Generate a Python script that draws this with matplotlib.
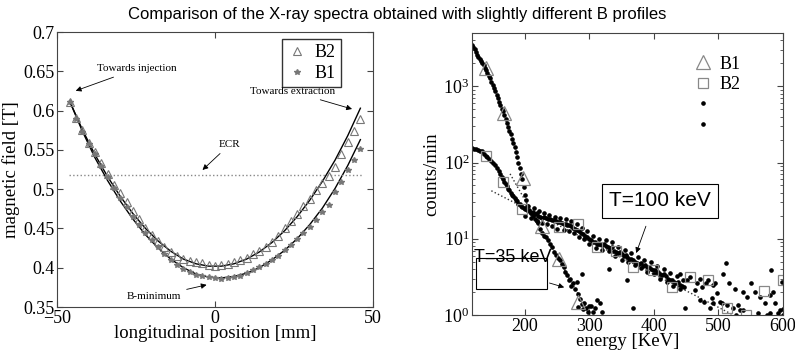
import matplotlib
matplotlib.use("Agg")
import matplotlib.pyplot as plt
from matplotlib.lines import Line2D
from matplotlib.ticker import LogLocator, LogFormatterMathtext, NullFormatter

plt.rcParams['font.family'] = ['Liberation Serif', 'DejaVu Serif']
plt.rcParams['mathtext.fontset'] = 'stix'

# ---- left panel: magnetic field profiles ----
pos_mm = [-46, -44, -42, -40, -38, -36, -34, -32, -30, -28, -26, -24, -22, -20, -18, -16,
          -14, -12, -10, -8, -6, -4, -2, 0, 2, 4, 6, 8, 10, 12, 14, 16, 18, 20, 22, 24,
          26, 28, 30, 32, 34, 36, 38, 40, 42, 44, 46]
field_b2 = [0.611, 0.590, 0.575, 0.559, 0.547, 0.533, 0.519, 0.505, 0.495, 0.484, 0.472,
            0.462, 0.451, 0.442, 0.434, 0.427, 0.420, 0.415, 0.411, 0.408, 0.407, 0.406,
            0.404, 0.402, 0.404, 0.405, 0.407, 0.410, 0.412, 0.417, 0.421, 0.426, 0.433,
            0.441, 0.450, 0.459, 0.469, 0.479, 0.488, 0.499, 0.508, 0.517, 0.528, 0.545,
            0.560, 0.574, 0.589]
field_b1 = [0.611, 0.589, 0.573, 0.557, 0.545, 0.530, 0.516, 0.502, 0.489, 0.477, 0.465,
            0.455, 0.444, 0.435, 0.427, 0.418, 0.410, 0.404, 0.399, 0.395, 0.391, 0.389,
            0.388, 0.387, 0.386, 0.387, 0.388, 0.390, 0.393, 0.397, 0.401, 0.405, 0.410,
            0.415, 0.422, 0.429, 0.436, 0.444, 0.452, 0.461, 0.471, 0.480, 0.496, 0.509,
            0.524, 0.537, 0.551]

fit_pos = [-46, -42, -38, -34, -30, -26, -22, -18, -14, -10, -6, -2, 2, 6, 10, 14, 18,
           22, 26, 30, 34, 38, 42, 46]
fit_b2 = [0.612, 0.576, 0.544, 0.516, 0.491, 0.469, 0.450, 0.434, 0.421, 0.411, 0.405,
          0.402, 0.402, 0.405, 0.411, 0.420, 0.432, 0.447, 0.465, 0.486, 0.510, 0.537,
          0.568, 0.603]
fit_b1 = [0.612, 0.574, 0.540, 0.511, 0.485, 0.462, 0.442, 0.425, 0.411, 0.400, 0.392,
          0.388, 0.387, 0.389, 0.393, 0.400, 0.410, 0.422, 0.437, 0.455, 0.476, 0.501,
          0.530, 0.563]
ecr_level = 0.518

# ---- right panel: X-ray spectra ----
b1_energy = [118, 120, 122, 124, 126, 128, 130, 132, 134, 136, 138, 140, 142, 144, 146, 148,
             150, 152, 154, 156, 158, 160, 162, 164, 166, 168, 170, 172, 174, 176, 178, 180,
             182, 184, 186, 188, 190, 192, 194, 196, 198, 200, 202, 204, 206, 209, 212, 215,
             218, 221, 224, 227, 230, 233, 236, 239, 242, 245, 248, 251, 254, 257, 260, 262,
             265, 268, 270, 272, 275, 278, 280, 283, 285, 288, 290, 292, 295, 298, 300, 303,
             306, 309, 311, 316, 320, 288, 283]
b1_counts = [3500, 3300, 3050, 2800, 2600, 2450, 2300, 2150, 2000, 1880, 1760, 1630, 1500,
             1380, 1270, 1150, 1040, 950, 860, 780, 700, 630, 565, 510, 470, 420, 370, 330,
             290, 262, 240, 205, 180, 160, 138, 118, 100, 85, 70, 60, 48, 38, 32, 27, 24, 22,
             20, 18, 17, 16, 13.5, 12, 11, 10.5, 9.5, 8.5, 7.8, 6.8, 6.2, 5.6, 5.2, 4.7, 4.2,
             3.7, 3.3, 2.9, 3.0, 2.4, 2.6, 2.2, 2.7, 1.9, 1.6, 1.4, 1.2, 1.42, 1.22, 1.1, 1.3,
             1.31, 1.1, 1.22, 1.57, 1.42, 1.1, 3.5, 1.28]

b2_energy = [118, 121, 124, 127, 130, 133, 136, 139, 142, 145, 148, 151, 154, 157, 160, 162,
             164, 166, 168, 170, 172, 174, 176, 178, 180, 182, 184, 186, 188, 190, 192, 194,
             196, 198, 200, 203, 206, 209, 212, 215, 218, 221, 224, 227, 230, 233, 236, 239,
             242, 245, 248, 251, 254, 257, 260, 263, 266, 269, 272, 275, 278, 281, 284, 287,
             290, 293, 296, 299, 302, 305, 308, 311, 314, 317, 320, 323, 326, 329, 332, 335,
             338, 341, 344, 347, 350, 353, 356, 359, 362, 365, 368, 371, 374, 377, 380, 383,
             386, 389, 392, 395, 398, 401, 404, 407, 410, 413, 416, 419, 422, 425, 428, 431,
             434, 437, 440, 443, 446,
             200, 205, 210, 214, 218, 222, 226, 230, 234, 238, 242, 246, 250, 255, 260, 264,
             268, 272, 276, 280, 284, 288, 292, 296, 300, 305, 310, 315, 320, 325, 330, 335,
             340, 345, 350, 355, 360, 365, 370, 375, 380, 385, 390, 395, 400, 405, 410, 415,
             420, 425, 430, 435, 440, 445,
             330, 358, 368, 440, 451, 456, 464, 467, 472, 472, 475, 477, 480, 484, 487, 490,
             492, 492, 495, 498, 503, 505, 507, 511, 513, 517, 523, 525, 531, 534, 538, 538,
             544, 551, 557, 562, 565, 572, 580, 580, 582, 585, 588, 593, 595, 598, 600, 448,
             575, 600, 527]
b2_counts = [156, 152, 150, 146, 143, 140, 130, 122, 118, 112, 105, 99, 92, 84, 77, 70, 64,
             60, 56, 52, 49, 45, 43, 40, 38, 36, 34, 32, 31, 29, 28.5, 27, 26, 25, 24.5, 23.5,
             23, 22, 22.5, 21, 21.5, 20, 19.5, 19, 19.5, 18.5, 18, 18, 17.5, 17.5, 17, 16.5,
             16.5, 16, 15.5, 15.5, 15, 15, 14.5, 14, 13.5, 13, 12.5, 12, 11.5, 11, 10.5, 10,
             9.5, 9, 9, 8.6, 8.5, 8.6, 8.2, 8.6, 8.0, 7.8, 7.5, 7.8, 7.0, 6.7, 6.5, 6.8, 6.4,
             6.0, 6.2, 5.8, 5.5, 5.4, 5.2, 5.0, 4.8, 4.7, 4.8, 4.4, 4.5, 4.2, 4.3, 4.0, 3.9,
             3.9, 3.6, 3.7, 3.5, 3.3, 3.4, 3.2, 3.0, 2.9, 2.9, 2.7, 2.6, 2.7, 2.5, 2.4, 2.35,
             20, 27, 19, 25, 17, 23, 16, 22, 15.5, 20.5, 14.5, 19.5, 13.5, 18.5, 13, 18, 12.5,
             17, 12, 15.5, 10.5, 14, 9.8, 12.5, 8.5, 10.8, 7.5, 10, 7.2, 9.5, 6.9, 9, 6.0, 7.8,
             5.3, 7.2, 4.9, 6.5, 4.5, 5.7, 4.1, 5.3, 3.7, 4.9, 3.4, 4.4, 3.0, 4.0, 2.7, 3.6,
             2.4, 3.2, 2.2, 2.9,
             4.06, 2.86, 1.22, 3.5, 2.86, 3.16, 2.1, 2.6, 3.0, 1.57, 2.35, 1.49, 2.6, 2.86,
             1.22, 1.65, 2.46, 1.42, 2.6, 1.92, 1.49, 1.42, 3.5, 4.8, 1.35, 2.6, 1.22, 2.2,
             1.35, 1.16, 2.0, 1.16, 1.73, 2.6, 2.0, 1.05, 1.73, 1.42, 1.82, 1.05, 3.86, 2.0,
             1.42, 1.05, 1.16, 2.7, 1.0, 1.22, 1.0, 1.2, 1.0]

b1_mark_energy = [139.7, 167.6, 196.6, 226, 253.4, 283]
b1_mark_counts = [1730, 447, 63, 14.9, 5.5, 1.49]
b2_mark_energy = [139.7, 166.5, 195, 253.4, 282.8, 311, 341, 368, 399, 427.6, 456, 484,
                  513, 543, 571, 600]
b2_mark_counts = [122, 54.7, 24.6, 14.2, 15.7, 7.8, 7.0, 4.3, 3.86, 2.35, 3.16, 2.86,
                  1.22, 1.0, 2.07, 2.86]

fit35_energy = [177, 301]
fit35_counts = [71, 1.0]
fit100_energy = [148, 523]
fit100_counts = [42.6, 1.0]

fig = plt.figure(figsize=(7.95, 3.56), dpi=100)
fig.text(0.5, 0.958, 'Comparison of the X-ray spectra obtained with slightly different B profiles',
         ha='center', va='center', fontsize=12, family='Liberation Sans')

frame_col = '#444444'

# left axes
ax1 = fig.add_axes([0.0717, 0.1376, 0.3975, 0.7725])
ax1.plot(fit_pos, fit_b2, color='black', lw=1.0)
ax1.plot(fit_pos, fit_b1, color='black', lw=1.0)
ax1.plot(pos_mm, field_b2, ls='none', marker='^', ms=5.5, mfc='none', mec='#777777', mew=0.8,
         label='B2')
ax1.plot(pos_mm, field_b1, ls='none', marker='*', ms=4, color='#777777', label='B1')
ax1.plot([-46.3, 46.5], [ecr_level, ecr_level], ls=':', color='#888888', lw=1.0)
ax1.set_xlim(-50, 50)
ax1.set_ylim(0.35, 0.7)
ax1.set_xticks([-50, 0, 50])
ax1.set_yticks([0.35, 0.4, 0.45, 0.5, 0.55, 0.6, 0.65, 0.7])
ax1.set_yticklabels(['0.35', '0.4', '0.45', '0.5', '0.55', '0.6', '0.65', '0.7'])
ax1.tick_params(direction='in', top=True, right=True, labelsize=13, length=4, color=frame_col,
                pad=2)
for s in ax1.spines.values():
    s.set_color(frame_col)
ax1.set_xlabel('longitudinal position [mm]', fontsize=13.5, labelpad=-1)
ax1.set_ylabel('magnetic field [T]', fontsize=13.5, labelpad=2)
leg1 = ax1.legend(loc='upper right', bbox_to_anchor=(0.9, 0.975), fontsize=13, frameon=True,
                  fancybox=False, edgecolor='black', handlelength=1.0, handletextpad=0.5,
                  borderpad=0.3, labelspacing=0.2, borderaxespad=0)
leg1.get_frame().set_linewidth(1.0)

arr = dict(arrowstyle='-|>', color='black', lw=0.6, mutation_scale=8)
ax1.annotate('Towards injection', xy=(-44.9, 0.624), xytext=(-37.5, 0.653), fontsize=8,
             arrowprops=arr, va='center', ha='left')
ax1.annotate('Towards extraction', xy=(44.2, 0.601), xytext=(11.1, 0.624), fontsize=8,
             arrowprops=arr, va='center', ha='left')
ax1.annotate('ECR', xy=(-4.6, 0.522), xytext=(4.7, 0.557), fontsize=8,
             arrowprops=arr, va='center', ha='center')
ax1.annotate('B-minimum', xy=(-1.8, 0.379), xytext=(-19.3, 0.363), fontsize=8,
             arrowprops=arr, va='center', ha='center')

# right axes
ax2 = fig.add_axes([0.5937, 0.1152, 0.3912, 0.7921])
ax2.set_yscale('log')
ax2.plot(fit35_energy, fit35_counts, ls=':', color='#333333', lw=1.0)
ax2.plot(fit100_energy, fit100_counts, ls=':', color='#333333', lw=1.0)
ax2.plot(b1_energy, b1_counts, ls='none', marker='o', ms=2.3, color='black')
ax2.plot(b2_energy, b2_counts, ls='none', marker='o', ms=2.3, color='black')
ax2.plot(b1_mark_energy, b1_mark_counts, ls='none', marker='^', ms=10, mfc='none',
         mec='#888888', mew=0.9)
ax2.plot(b2_mark_energy, b2_mark_counts, ls='none', marker='s', ms=7, mfc='none',
         mec='#888888', mew=0.9)
ax2.set_xlim(118, 600)
ax2.set_ylim(1, 5000)
ax2.set_xticks([200, 300, 400, 500, 600])
ax2.yaxis.set_major_locator(LogLocator(base=10, numticks=10))
ax2.yaxis.set_major_formatter(LogFormatterMathtext())
ax2.yaxis.set_minor_locator(LogLocator(base=10, subs=range(2, 10), numticks=10))
ax2.yaxis.set_minor_formatter(NullFormatter())
ax2.tick_params(which='both', direction='in', top=True, right=True, labelsize=13,
                color=frame_col, pad=2)
ax2.tick_params(which='major', length=4)
ax2.tick_params(which='minor', length=2)
for s in ax2.spines.values():
    s.set_color(frame_col)
ax2.set_xlabel('energy [KeV]', fontsize=13.5, labelpad=-1)
ax2.set_ylabel('counts/min', fontsize=13.5, labelpad=2)

handles = [Line2D([], [], ls='none', marker='^', ms=10, mfc='none', mec='#888888', mew=0.9),
           Line2D([], [], ls='none', marker='s', ms=7, mfc='none', mec='#888888', mew=0.9),
           Line2D([], [], ls='none', marker='o', ms=2.3, color='black'),
           Line2D([], [], ls='none', marker='o', ms=2.3, color='black')]
leg2 = ax2.legend(handles, ['B1', 'B2', 'B1', 'B2'], loc='upper left',
                  bbox_to_anchor=(0.715, 0.92), frameon=False, fontsize=13, handlelength=1.0,
                  handletextpad=0.4, labelspacing=0.2, borderaxespad=0, borderpad=0)
for t in leg2.get_texts()[2:]:
    t.set_alpha(0)

ax2.annotate('', xy=(371, 6.0), xytext=(389, 15.8),
             arrowprops=dict(arrowstyle='-|>', color='black', lw=0.6, mutation_scale=8))
ax2.text(0.44, 0.405, 'T=100 keV', transform=ax2.transAxes, fontsize=15,
         family='Liberation Sans', va='center', ha='left',
         bbox=dict(boxstyle='square,pad=0.35', fc='white', ec='black', lw=0.8))
box = plt.Rectangle((0.013, 0.092), 0.228, 0.11, transform=ax2.transAxes, fc='white',
                    ec='black', lw=0.8)
ax2.add_patch(box)
ax2.annotate('', xy=(265, 2.25), xytext=(234, 2.69),
             arrowprops=dict(arrowstyle='-|>', color='black', lw=0.6, mutation_scale=8))
ax2.text(0.005, 0.205, 'T=35 keV', transform=ax2.transAxes, fontsize=13,
         family='Liberation Sans', va='center', ha='left')

fig.savefig('out.png', dpi=100)
